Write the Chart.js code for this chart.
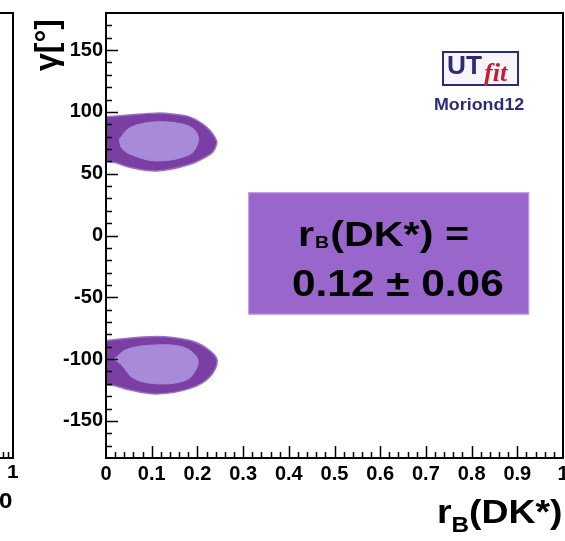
<!DOCTYPE html>
<html>
<head>
<meta charset="utf-8">
<script src="https://cdn.jsdelivr.net/npm/chart.js@4.4.1/dist/chart.umd.min.js"></script>
<style>
  body { margin: 0; background: #fff; }
  #wrap { width: 565px; height: 541px; }
</style>
</head>
<body>
<div id="wrap"><canvas id="c" width="565" height="541"></canvas></div>
<script>
// axis ticks
const xTicks = [0, 0.1, 0.2, 0.3, 0.4, 0.5, 0.6, 0.7, 0.8, 0.9, 1];
const yTicks = [-150, -100, -50, 0, 50, 100, 150];

// 95% / 68% regions, r_B vs gamma
const upperOuterR = [0, 0.05, 0.111, 0.15, 0.184, 0.22, 0.242, 0.238, 0.228, 0.184, 0.111, 0.053, 0.02, 0, 0];
const upperOuterG = [96, 97.5, 99, 98, 95.8, 87.7, 76.5, 70, 65.7, 57.6, 52.2, 55, 59, 61, 96];
const upperInnerR = [0.029, 0.053, 0.111, 0.169, 0.195, 0.202, 0.184, 0.111, 0.053, 0.034, 0.029];
const upperInnerG = [77.9, 87.4, 92, 90, 85, 76.5, 65.7, 60.3, 65.7, 71, 77.9];
const lowerOuterR = [0, 0.111, 0.184, 0.22, 0.243, 0.228, 0.184, 0.111, 0.053, 0.02, 0, 0];
const lowerOuterG = [-85, -81.7, -85, -91.2, -100.6, -114, -123.7, -128.2, -125, -121.5, -119.6, -85];
const lowerInnerR = [0.0175, 0.046, 0.111, 0.169, 0.198, 0.2, 0.176, 0.111, 0.06, 0.034, 0.0175];
const lowerInnerG = [-100, -92, -88.5, -90.3, -98, -106, -116.9, -120, -115.5, -104.7, -100];

// result box, in data coordinates
const boxR = [0.311, 0.926];
const boxG = [35, -64];

const toPts = (xs, ys) => xs.map((x, i) => ({ x: x, y: ys[i] }));

const darkPurple = '#7b3fa3';
const lightPurple = '#a78bd8';

function region(xs, ys, color, order) {
    return {
        data: toPts(xs, ys),
        showLine: true,
        fill: 'shape',
        backgroundColor: color,
        borderColor: order === 2 ? '#9a70c6' : color,
        borderWidth: order === 2 ? 1.5 : 1,
        pointRadius: 0,
        tension: 0.35,
        order: order
    };
}

// stretched text helper (the original is a bit wide)
function wideText(ctx, txt, x, y, sx) {
    ctx.save();
    ctx.translate(x, y);
    ctx.scale(sx, 1);
    ctx.fillText(txt, 0, 0);
    ctx.restore();
    return ctx.measureText(txt).width * sx;
}

const decor = {
    id: 'decor',
    beforeDatasetsDraw(chart) {
        const ctx = chart.ctx;
        const xs = chart.scales.x, ys = chart.scales.y;
        // result box
        const x0 = xs.getPixelForValue(boxR[0]), x1 = xs.getPixelForValue(boxR[1]);
        const y0 = ys.getPixelForValue(boxG[0]), y1 = ys.getPixelForValue(boxG[1]);
        ctx.save();
        ctx.fillStyle = '#9966cc';
        ctx.fillRect(x0, y0, x1 - x0, y1 - y0);
        ctx.strokeStyle = '#c7a8e6';
        ctx.lineWidth = 1;
        ctx.strokeRect(x0 + 0.5, y0 + 0.5, x1 - x0 - 1, y1 - y0 - 1);
        ctx.restore();
    },
    afterDraw(chart) {
        const ctx = chart.ctx;
        const a = chart.chartArea;
        const xs = chart.scales.x, ys = chart.scales.y;
        ctx.save();
        ctx.strokeStyle = '#000';
        ctx.lineWidth = 1.5;

        // inward ticks on y
        ctx.beginPath();
        for (let v = -170; v <= 170; v += 10) {
            const y = Math.round(ys.getPixelForValue(v)) + 0.5;
            const len = yTicks.includes(v) ? 12 : 6;
            ctx.moveTo(a.left, y);
            ctx.lineTo(a.left + len, y);
        }
        // inward ticks on x
        for (let i = 1; i < 50; i++) {
            const v = i / 50;
            const x = Math.round(xs.getPixelForValue(v)) + 0.5;
            const len = i % 5 === 0 ? 12 : 6;
            ctx.moveTo(x, a.bottom);
            ctx.lineTo(x, a.bottom - len);
        }
        ctx.stroke();

        // frame
        ctx.lineWidth = 2;
        ctx.strokeRect(a.left, a.top, a.right - a.left, a.bottom - a.top);

        // neighbouring panel edge on the left
        ctx.beginPath();
        ctx.moveTo(0, a.top); ctx.lineTo(13, a.top);
        ctx.lineTo(13, a.bottom); ctx.lineTo(0, a.bottom);
        ctx.stroke();
        ctx.lineWidth = 1.5;
        ctx.beginPath();
        ctx.moveTo(3.5, a.bottom); ctx.lineTo(3.5, a.bottom - 6);
        ctx.moveTo(8.5, a.bottom); ctx.lineTo(8.5, a.bottom - 6);
        ctx.stroke();
        ctx.fillStyle = '#000';
        ctx.font = 'bold 19px "Liberation Sans", Arial, sans-serif';
        ctx.textBaseline = 'alphabetic';
        ctx.textAlign = 'left';
        wideText(ctx, '1', 7, 478, 1.1);
        ctx.font = 'bold 22px "Liberation Sans", Arial, sans-serif';
        wideText(ctx, '0', -1, 508, 1.1);

        // result text
        ctx.font = 'bold 35px "Liberation Sans", Arial, sans-serif';
        let x = 298;
        x += wideText(ctx, 'r', x, 246, 1.18);
        ctx.font = 'bold 17px "Liberation Sans", Arial, sans-serif';
        x += wideText(ctx, 'B', x + 1, 248, 1.15) + 2;
        ctx.font = 'bold 35px "Liberation Sans", Arial, sans-serif';
        wideText(ctx, '(DK*) =', x, 246, 1.18);
        ctx.font = 'bold 37px "Liberation Sans", Arial, sans-serif';
        wideText(ctx, '0.12 \u00b1 0.06', 292, 296, 1.145);

        // axis titles
        ctx.font = 'bold 34px "Liberation Sans", Arial, sans-serif';
        x = 437;
        x += wideText(ctx, 'r', x, 523, 1.1);
        ctx.font = 'bold 22px "Liberation Sans", Arial, sans-serif';
        x += wideText(ctx, 'B', x, 532, 1.1);
        ctx.font = 'bold 34px "Liberation Sans", Arial, sans-serif';
        wideText(ctx, '(DK*)', x, 523, 1.1);

        ctx.save();
        ctx.translate(57, 71);
        ctx.rotate(-Math.PI / 2);
        ctx.font = 'bold 32px "Liberation Sans", Arial, sans-serif';
        ctx.fillText('\u03b3[\u00b0]', 0, 0);
        ctx.restore();

        // UTfit logo
        ctx.fillStyle = '#f7f5fb';
        ctx.fillRect(443, 52, 75, 33);
        ctx.strokeStyle = '#2b2b78';
        ctx.lineWidth = 2;
        ctx.strokeRect(443, 52, 75, 33);
        ctx.fillStyle = '#2b2b78';
        ctx.font = 'bold 25px "Liberation Sans", Arial, sans-serif';
        wideText(ctx, 'UT', 447, 74, 1.05);
        ctx.fillStyle = '#c41e2a';
        ctx.font = 'italic bold 26px "Liberation Serif", serif';
        ctx.fillText('fit', 484, 81);
        ctx.fillStyle = '#2b2b78';
        ctx.font = 'bold 17px "Liberation Sans", Arial, sans-serif';
        wideText(ctx, 'Moriond12', 434, 110, 1.05);
        ctx.restore();
    }
};

const tickFont = { family: '"Liberation Sans", Arial, sans-serif', size: 20, weight: 'bold' };

new Chart(document.getElementById('c'), {
    type: 'scatter',
    data: {
        datasets: [
            region(upperOuterR, upperOuterG, darkPurple, 2),
            region(upperInnerR, upperInnerG, lightPurple, 1),
            region(lowerOuterR, lowerOuterG, darkPurple, 2),
            region(lowerInnerR, lowerInnerG, lightPurple, 1)
        ]
    },
    options: {
        responsive: false,
        animation: false,
        layout: { padding: { top: 13, right: 2, left: 0, bottom: 0 } },
        scales: {
            x: {
                type: 'linear',
                min: 0,
                max: 1,
                grid: { display: false, drawTicks: false },
                border: { display: false },
                afterBuildTicks: (s) => { s.ticks = xTicks.map(v => ({ value: v })); },
                afterFit: (s) => { s.height = 83; s.paddingLeft = 0; s.paddingRight = 0; },
                ticks: { color: '#000', font: tickFont, padding: 4, maxRotation: 0, autoSkip: false,
                         callback: (v) => String(v) }
            },
            y: {
                type: 'linear',
                min: -180,
                max: 180,
                grid: { display: false, drawTicks: false },
                border: { display: false },
                afterBuildTicks: (s) => { s.ticks = yTicks.map(v => ({ value: v })); },
                afterFit: (s) => { s.width = 106; s.paddingTop = 0; s.paddingBottom = 0; },
                ticks: { color: '#000', font: tickFont, padding: 3 }
            }
        },
        plugins: {
            legend: { display: false },
            tooltip: { enabled: false }
        }
    },
    plugins: [decor]
});
</script>
</body>
</html>
